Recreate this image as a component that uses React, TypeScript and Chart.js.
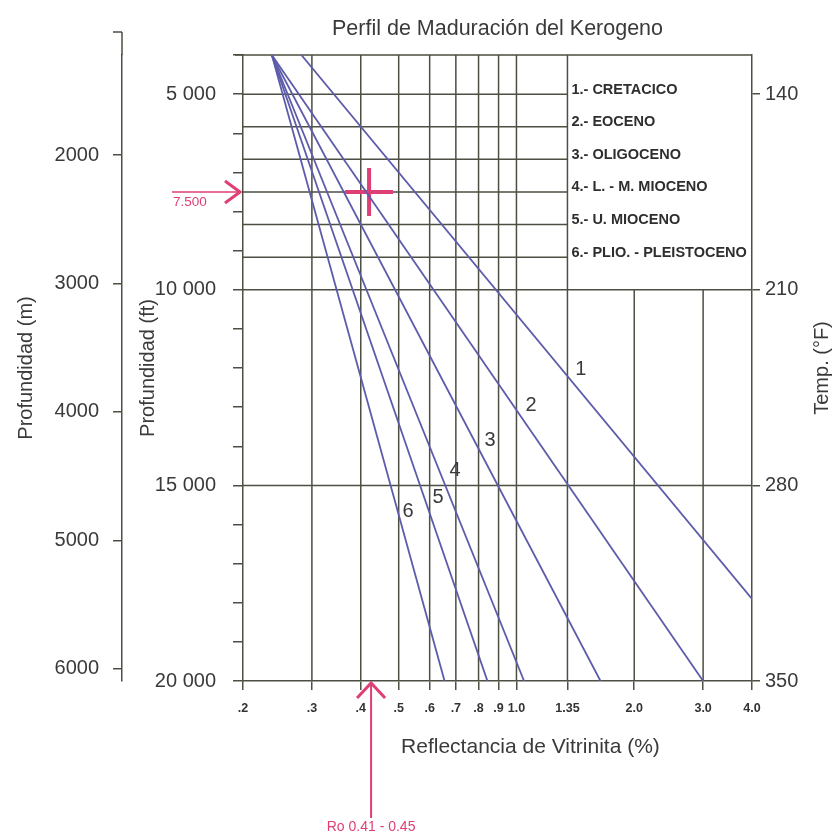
import React, { useEffect, useRef } from 'react';
import { Chart, registerables } from 'chart.js';

Chart.register(...registerables);

const FONT = '"Liberation Sans", Arial, Helvetica, sans-serif';
const TEXT = '#3a3a3a';
const GRID = '#4c4f42';
const CURVE = '#5d5caa';
const PINK = '#de3f74';

// X axis: vitrinite reflectance (%), logarithmic
const roTicks = [0.2, 0.3, 0.4, 0.5, 0.6, 0.7, 0.8, 0.9, 1.0, 1.35, 2.0, 3.0, 4.0];
const roTickLabels = ['.2', '.3', '.4', '.5', '.6', '.7', '.8', '.9', '1.0', '1.35', '2.0', '3.0', '4.0'];
const roGridFull = [0.3, 0.4, 0.5, 0.6, 0.7, 0.8, 0.9, 1.0, 1.35];
const roGridLower = [2.0, 3.0];

// Depth (ft)
const depthFtMin = 4000;
const depthFtMax = 20000;
const depthFtTicks = [4000, 5000, 6000, 7000, 8000, 9000, 10000, 11000, 12000, 13000, 14000, 15000, 16000, 17000, 18000, 19000, 20000];
const depthFtLabeled = [5000, 10000, 15000, 20000];
const depthFtGridUpper = [5000, 5833.33, 6666.67, 7500, 8333.33, 9166.67];
const depthFtGridFull = [10000, 15000];

// Depth (m)
const FT_PER_M = 3.28084;
const depthMTicks = [2000, 3000, 4000, 5000, 6000];

// Temperature (°F)
const tempMin = 126;
const tempMax = 350;
const tempTicks = [140, 210, 280, 350];

// Series (maturation lines)
const seriesIds = ['1', '2', '3', '4', '5', '6'];
const seriesNames = [
  '1.- CRETACICO',
  '2.- EOCENO',
  '3.- OLIGOCENO',
  '4.- L. - M. MIOCENO',
  '5.- U. MIOCENO',
  '6.- PLIO. - PLEISTOCENO',
];
const startRo = [0.282, 0.237, 0.237, 0.237, 0.237, 0.237];
const startDepth = [4000, 4000, 4000, 4000, 4000, 4000];
const endRo = [4.0, 3.0, 1.64, 1.046, 0.843, 0.655];
const endDepth = [17900, 20000, 20000, 20000, 20000, 20000];
const idRo = [1.46, 1.09, 0.856, 0.697, 0.63, 0.528];
const idDepth = [12050, 12950, 13850, 14610, 15300, 15680];
const legendDepth = [5000, 5833.33, 6666.67, 7500, 8333.33, 9166.67];

// Annotation
const markerRo = 0.42;
const markerDepth = 7500;
const markerDepthLabel = '7.500';
const arrowRo = 0.425;
const roRangeLabel = 'Ro 0.41 - 0.45';

const fmtFt = (v: number) => `${Math.round(v / 1000)} 000`;

const overlay = {
  id: 'overlay',
  beforeDatasetsDraw(chart: any) {
    const { ctx, chartArea: a } = chart;
    const x = chart.scales.x;
    const y = chart.scales.y;
    ctx.save();
    ctx.strokeStyle = GRID;
    ctx.lineWidth = 1.5;
    ctx.beginPath();
    roGridFull.forEach((v) => {
      const px = x.getPixelForValue(v);
      ctx.moveTo(px, a.top);
      ctx.lineTo(px, a.bottom);
    });
    const y10 = y.getPixelForValue(10000);
    roGridLower.forEach((v) => {
      const px = x.getPixelForValue(v);
      ctx.moveTo(px, y10);
      ctx.lineTo(px, a.bottom);
    });
    const x135 = x.getPixelForValue(1.35);
    depthFtGridUpper.forEach((d) => {
      const py = y.getPixelForValue(d);
      ctx.moveTo(a.left, py);
      ctx.lineTo(x135, py);
    });
    depthFtGridFull.forEach((d) => {
      const py = y.getPixelForValue(d);
      ctx.moveTo(a.left, py);
      ctx.lineTo(a.right, py);
    });
    ctx.moveTo(a.left - 8, a.top);
    ctx.lineTo(a.right, a.top);
    ctx.stroke();
    ctx.restore();
  },
  afterDatasetsDraw(chart: any) {
    const { ctx, chartArea: a } = chart;
    const x = chart.scales.x;
    const y = chart.scales.y;
    const ym = chart.scales.ym;
    ctx.save();

    // meter axis extension above the chart area
    ctx.strokeStyle = GRID;
    ctx.lineWidth = 1.5;
    ctx.beginPath();
    const mx = ym.right;
    ctx.moveTo(mx, a.top - 23);
    ctx.lineTo(mx, a.top);
    ctx.moveTo(mx - 9, a.top - 23);
    ctx.lineTo(mx, a.top - 23);
    ctx.stroke();

    // legend text
    const lx = x.getPixelForValue(1.35) + 4;
    ctx.fillStyle = '#2e2e2e';
    ctx.font = `bold 14.5px ${FONT}`;
    ctx.textAlign = 'left';
    ctx.textBaseline = 'alphabetic';
    seriesNames.forEach((name, i) => {
      ctx.fillText(name, lx, y.getPixelForValue(legendDepth[i]) - 0.5);
    });

    // line ids
    ctx.font = `20px ${FONT}`;
    ctx.fillStyle = TEXT;
    ctx.textAlign = 'center';
    ctx.textBaseline = 'middle';
    seriesIds.forEach((id, i) => {
      ctx.fillText(id, x.getPixelForValue(idRo[i]), y.getPixelForValue(idDepth[i]));
    });

    // left pink arrow at 7 500 ft
    const py = y.getPixelForValue(markerDepth);
    ctx.strokeStyle = PINK;
    ctx.fillStyle = PINK;
    ctx.lineWidth = 1.5;
    ctx.beginPath();
    ctx.moveTo(a.left - 71, py);
    ctx.lineTo(a.left - 4, py);
    ctx.stroke();
    ctx.lineWidth = 3;
    ctx.lineJoin = 'miter';
    ctx.beginPath();
    ctx.moveTo(a.left - 18, py - 11);
    ctx.lineTo(a.left - 3, py);
    ctx.lineTo(a.left - 18, py + 11);
    ctx.stroke();
    ctx.font = `13.5px ${FONT}`;
    ctx.textAlign = 'left';
    ctx.textBaseline = 'middle';
    ctx.fillText(markerDepthLabel, a.left - 70, py + 10);

    // bottom pink arrow
    const px = x.getPixelForValue(arrowRo);
    ctx.lineWidth = 2;
    ctx.beginPath();
    ctx.moveTo(px, a.bottom + 2);
    ctx.lineTo(px, a.bottom + 137);
    ctx.stroke();
    ctx.lineWidth = 3;
    ctx.beginPath();
    ctx.moveTo(px - 14, a.bottom + 17);
    ctx.lineTo(px, a.bottom + 2);
    ctx.lineTo(px + 14, a.bottom + 17);
    ctx.stroke();
    ctx.font = `14px ${FONT}`;
    ctx.textAlign = 'center';
    ctx.fillText(roRangeLabel, px, a.bottom + 146);

    // x axis title
    ctx.fillStyle = TEXT;
    ctx.font = `21px ${FONT}`;
    ctx.textAlign = 'center';
    ctx.textBaseline = 'middle';
    ctx.fillText('Reflectancia de Vitrinita (%)', x.getPixelForValue(1.0) + 14, a.bottom + 66);

    // temperature axis title (reads bottom to top)
    ctx.save();
    ctx.translate(a.right + 70, (a.top + a.bottom) / 2);
    ctx.rotate(-Math.PI / 2);
    ctx.font = `20px ${FONT}`;
    ctx.fillText('Temp. (°F)', 0, 0);
    ctx.restore();

    ctx.restore();
  },
};

export default function App() {
  const ref = useRef<HTMLCanvasElement>(null);
  useEffect(() => {
    if (!ref.current) return;
    const lineSets: any[] = seriesIds.map((id, i) => ({
      type: 'line',
      label: seriesNames[i],
      data: [
        { x: startRo[i], y: startDepth[i] },
        { x: endRo[i], y: endDepth[i] },
      ],
      borderColor: CURVE,
      borderWidth: 1.8,
      pointRadius: 0,
      tension: 0,
      fill: false,
      xAxisID: 'x',
      yAxisID: 'y',
    }));
    const markerSet: any = {
      type: 'scatter',
      label: 'marker',
      data: [{ x: markerRo, y: markerDepth }],
      pointStyle: 'cross',
      pointRadius: 24,
      borderColor: PINK,
      backgroundColor: PINK,
      borderWidth: 4,
      xAxisID: 'x',
      yAxisID: 'y',
    };
    const chart = new Chart(ref.current, {
      type: 'line',
      data: { datasets: [...lineSets, markerSet] },
      options: {
        responsive: false,
        devicePixelRatio: 1,
        animation: false,
        events: [],
        layout: { padding: 0 },
        plugins: {
          legend: { display: false },
          tooltip: { enabled: false },
          title: {
            display: true,
            text: 'Perfil de Maduración del Kerogeno',
            fullSize: false,
            color: TEXT,
            font: { family: FONT, size: 21.5, weight: 'normal' },
            padding: { top: 16.5, bottom: 12.7 },
          },
        },
        scales: {
          x: {
            type: 'logarithmic',
            position: 'bottom',
            min: 0.2,
            max: 4.0,
            afterBuildTicks: (s: any) => {
              s.ticks = roTicks.map((v) => ({ value: v }));
            },
            afterFit: (s: any) => {
              s.height = 155;
            },
            ticks: {
              autoSkip: false,
              maxRotation: 0,
              minRotation: 0,
              padding: 11,
              color: '#333333',
              font: { family: FONT, size: 12.5, weight: 'bold' },
              callback: (_v: any, i: number) => roTickLabels[i],
            },
            grid: { display: true, drawOnChartArea: false, drawTicks: true, tickLength: 9, color: GRID, lineWidth: 1.5 },
            border: { display: true, color: GRID, width: 1.5 },
          },
          y: {
            type: 'linear',
            position: 'left',
            reverse: true,
            min: depthFtMin,
            max: depthFtMax,
            weight: 0,
            afterBuildTicks: (s: any) => {
              s.ticks = depthFtTicks.map((v) => ({ value: v }));
            },
            afterFit: (s: any) => {
              s.width = 121;
            },
            ticks: {
              padding: 17,
              color: TEXT,
              font: { family: FONT, size: 20 },
              callback: (v: any) => (depthFtLabeled.includes(Number(v)) ? fmtFt(Number(v)) : ''),
            },
            grid: { display: true, drawOnChartArea: false, drawTicks: true, tickLength: 10, color: GRID, lineWidth: 1.5 },
            border: { display: true, color: GRID, width: 1.5 },
            title: {
              display: true,
              text: 'Profundidad (ft)',
              color: TEXT,
              font: { family: FONT, size: 20 },
              padding: { top: 14, bottom: 0 },
            },
          },
          ym: {
            type: 'linear',
            position: 'left',
            reverse: true,
            weight: 1,
            min: depthFtMin / FT_PER_M,
            max: depthFtMax / FT_PER_M,
            afterBuildTicks: (s: any) => {
              s.ticks = depthMTicks.map((v) => ({ value: v }));
            },
            afterFit: (s: any) => {
              s.width = 122;
            },
            ticks: {
              padding: 14,
              color: TEXT,
              font: { family: FONT, size: 20 },
              callback: (v: any) => String(v),
            },
            grid: { display: true, drawOnChartArea: false, drawTicks: true, tickLength: 9, color: GRID, lineWidth: 1.5 },
            border: { display: true, color: GRID, width: 1.5 },
            title: {
              display: true,
              text: 'Profundidad (m)',
              color: TEXT,
              font: { family: FONT, size: 20 },
              padding: { top: 14, bottom: 0 },
            },
          },
          yt: {
            type: 'linear',
            position: 'right',
            reverse: true,
            min: tempMin,
            max: tempMax,
            afterBuildTicks: (s: any) => {
              s.ticks = tempTicks.map((v) => ({ value: v }));
            },
            afterFit: (s: any) => {
              s.width = 83;
            },
            ticks: {
              padding: 5,
              color: TEXT,
              font: { family: FONT, size: 20 },
              callback: (v: any) => String(v),
            },
            grid: { display: true, drawOnChartArea: false, drawTicks: true, tickLength: 8, color: GRID, lineWidth: 1.5 },
            border: { display: true, color: GRID, width: 1.5 },
          },
        },
      } as any,
      plugins: [overlay],
    });
    return () => chart.destroy();
  }, []);

  return (
    <div style={{ position: 'fixed', left: 0, top: 0, width: 835, height: 836, background: '#ffffff' }}>
      <canvas ref={ref} width={835} height={836} style={{ display: 'block', width: 835, height: 836 }} />
    </div>
  );
}
